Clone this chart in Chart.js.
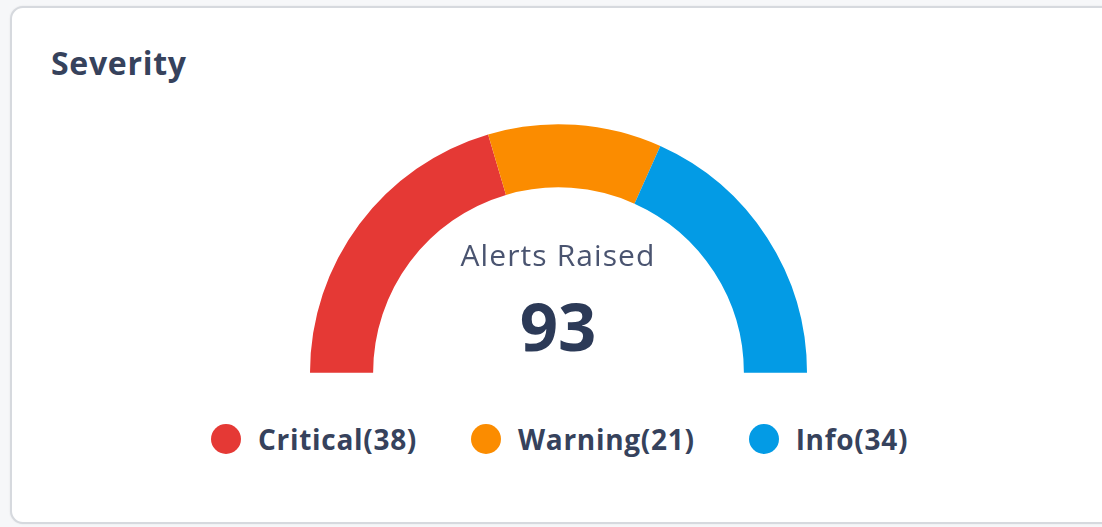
<!DOCTYPE html>
<html lang="en">
<head>
  <meta charset="UTF-8">
  <title>Severity</title>
  <script src="https://cdn.jsdelivr.net/npm/chart.js@4.4.1/dist/chart.umd.min.js"></script>
  <style>
    * { box-sizing: border-box; }
    body { margin: 0; width: 1102px; height: 527px; background: #f6f7f9; font-family: 'Open Sans', 'Noto Sans', sans-serif; overflow: hidden; position: relative; }
    .card { position: absolute; left: 10px; top: 6px; width: 1110px; height: 518px; background: #fff; border: 2px solid #d6d9de; border-radius: 13px; box-shadow: 0 0 2px rgba(0,0,0,0.08); }
    .title { position: absolute; left: 51px; top: 47px; font-size: 32px; font-weight: 700; letter-spacing: 0.7px; color: #36425c; margin: 0; line-height: 1; }
    .gauge { position: absolute; left: 310px; top: 124px; width: 497px; height: 249px; }
    .center-label { position: absolute; left: 358px; width: 400px; top: 240px; text-align: center; font-size: 30px; letter-spacing: 1.1px; color: #4a5470; line-height: 1; }
    .center-value { position: absolute; left: 358px; width: 400px; top: 292px; text-align: center; font-size: 67px; font-weight: 700; color: #2c3a57; line-height: 1; }
    .legend { position: absolute; left: 211px; top: 424px; display: flex; align-items: center; }
    .legend-item { display: flex; align-items: center; margin-right: 54px; }
    .legend-dot { width: 30px; height: 30px; border-radius: 50%; margin-right: 17px; }
    .legend-text { font-size: 28px; font-weight: 700; letter-spacing: 0.7px; color: #36425c; line-height: 1; }
  </style>
</head>
<body>
  <div class="card"></div>
  <h1 class="title">Severity</h1>
  <div class="gauge"><canvas id="chart"></canvas></div>
  <div class="center-label">Alerts Raised</div>
  <div class="center-value" id="total"></div>
  <div class="legend" id="legend"></div>
  <script>
    const labels = ['Critical', 'Warning', 'Info'];
    const counts = [38, 21, 34];
    const colors = ['#e53935', '#fb8c00', '#039be5'];

    const total = counts.reduce((a, b) => a + b, 0);
    document.getElementById('total').textContent = total;

    // legend under the gauge, built from the same series
    const legend = document.getElementById('legend');
    labels.forEach((name, i) => {
      const item = document.createElement('div');
      item.className = 'legend-item';
      item.innerHTML = `<span class="legend-dot" style="background:${colors[i]}"></span><span class="legend-text">${name}(${counts[i]})</span>`;
      legend.appendChild(item);
    });

    new Chart(document.getElementById('chart'), {
      type: 'doughnut',
      data: {
        labels,
        datasets: [{ data: counts, backgroundColor: colors, borderWidth: 0, hoverOffset: 0 }]
      },
      options: {
        responsive: true,
        maintainAspectRatio: false,
        animation: false,
        rotation: -90,
        circumference: 180,
        cutout: '74.6%',
        layout: { padding: 0 },
        plugins: { legend: { display: false }, tooltip: { enabled: false } }
      }
    });
  </script>
</body>
</html>
